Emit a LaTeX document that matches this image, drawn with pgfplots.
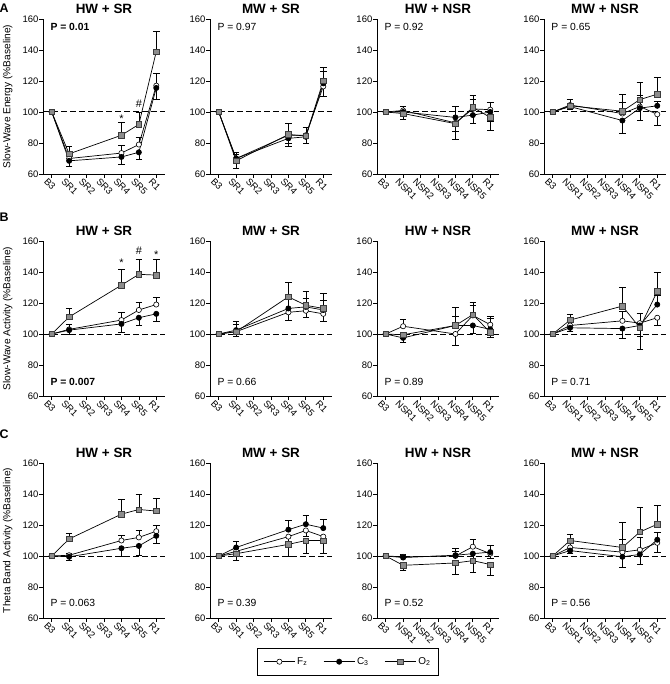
\documentclass[border=0pt]{standalone}
\usepackage{fontspec}
\setmainfont{Liberation Sans}
\usepackage{pgfplots}
\pgfplotsset{compat=1.18}
\usepackage{pgfplotstable}
\usepgfplotslibrary{groupplots}

\definecolor{sqgray}{RGB}{140,140,140}
\definecolor{sqedge}{RGB}{60,60,60}

% columns: x, Fz, Fz error (signed: + up, - down), C3, C3 error, O2, O2 error
\pgfplotstableread{
x fz fze c3 c3e o2 o2e
0 100 0 100 0 100 0
1 70 2 68.5 -3.5 73 5
4 73.5 5 71 -5 85 8.5
5 79 5 74 -4.5 92 8
6 117 8 115.5 -7.5 139 13
}\tAa
\pgfplotstableread{
x fz fze c3 c3e o2 o2e
0 100 0 100 0 100 0
1 70 3 70 -6 68.5 5.5
4 85 -5 83 -5 85.5 7
5 85 -5 84 -4.5 84.5 5.5
6 116.5 -6.5 118.5 7.5 120 9
}\tAb
\pgfplotstableread{
x fz fze c3 c3e o2 o2e
0 100 0 100 0 100 0
1 101 3 100 -1 99 -4
4 93 -5.5 96.5 7 92.5 -10
5 102 6 98 -5.5 103 7.5
6 101.5 4.5 100 -6 96.5 -8
}\tAc
\pgfplotstableread{
x fz fze c3 c3e o2 o2e
0 100 0 100 0 100 0
1 104.5 3.5 103.5 -2 104 4
4 99 7.5 94.5 -8 100.5 11
5 103.5 7 102.5 -8 108 11
6 98.5 -7 104 3 111.5 11
}\tAd
\pgfplotstableread{
x fz fze c3 c3e o2 o2e
0 100 0 100 0 100 0
1 103 3 102.5 -3 111 5.5
4 109 5 106.5 -5.5 131.5 10.5
5 115.5 5 110.5 -5 138.5 10
6 119 5 113 -4.5 138 10.5
}\tBa
\pgfplotstableread{
x fz fze c3 c3e o2 o2e
0 100 0 100 0 100 0
1 101.5 -3 102.5 4 101.5 6.5
4 114 -5 116.5 6 124 9.5
5 115 -4.5 117.5 5.5 118.5 9
6 113 -4.5 115.5 6 116.5 9.5
}\tBb
\pgfplotstableread{
x fz fze c3 c3e o2 o2e
0 100 0 100 0 100 0
1 105 4.5 97.5 -3 99.5 -2
4 100 -7.5 105.5 6 105.5 11.5
5 112 6.5 105.5 -5 112.5 8
6 106 5.5 103 7 101 -3
}\tBc
\pgfplotstableread{
x fz fze c3 c3e o2 o2e
0 100 0 100 0 100 0
1 105.5 3 104 -2 109 4
4 108.5 6 103.5 -6 118 12
5 107 6.5 105.5 -7 104 -14
6 110.5 -5 119 6 127.5 12
}\tBd
\pgfplotstableread{
x fz fze c3 c3e o2 o2e
0 100 0 100 0 100 0
1 100.5 1 99.5 -2 111 3.5
4 110 3.5 105 -5.5 127 9.5
5 112 4.5 106.5 -6 130 9.5
6 116 3.5 113 -4.5 129 8
}\tCa
\pgfplotstableread{
x fz fze c3 c3e o2 o2e
0 100 0 100 0 100 0
1 103 2 105.5 4 101.5 -4
4 112.5 -4 117 6 107.5 -8
5 116.5 -4 120.5 5.5 110 -8
6 112.5 -4 118 6 110 -8
}\tCb
\pgfplotstableread{
x fz fze c3 c3e o2 o2e
0 100 0 100 0 100 0
1 99.5 1 99 2 94 -3.5
4 100 3 100.5 4.5 95.5 -7.5
5 106 4.5 101.5 -3 97 -7.5
6 101.5 -3 102.5 4.5 94.5 -7
}\tCc
\pgfplotstableread{
x fz fze c3 c3e o2 o2e
0 100 0 100 0 100 0
1 105.5 3 103.5 -2 110 4
4 102.5 8.5 99.5 -7 105.5 16.5
5 104 8 101 -6.5 115.5 16
6 108.5 -6 110.5 5 120.5 12
}\tCd

\pgfplotsset{
  panel/.style={
    width=122bp, height=155bp, scale only axis,
    xmin=-0.5, xmax=6.5, ymin=60, ymax=160,
    ytick={60,80,...,160}, xtick={0,...,6},
    axis x line*=bottom, axis y line*=left,
    axis line style={-, line width=0.8pt},
    tick align=outside, major tick length=4bp,
    tick style={black, line width=0.7pt},
    every tick label/.append style={font=\fontsize{9.5}{11}\selectfont},
    /pgf/number format/assume math mode=true,
    yticklabel style={inner sep=0.5bp},
    xticklabel style={rotate=-45, anchor=north west, inner sep=1bp, xshift=-4bp, yshift=-1bp},
    title style={font=\bfseries\fontsize{13.5}{15}\selectfont, at={(0.5,1)}, anchor=base, yshift=0bp},
    ylabel style={font=\fontsize{10.2}{12}\selectfont, at={(axis description cs:-0.29,0.5)}, anchor=center},
    clip=false,
  },
  sr/.style={xticklabels={B3,SR1,SR2,SR3,SR4,SR5,R1}},
  nsr/.style={xticklabels={B3,NSR1,NSR2,NSR3,NSR4,NSR5,R1}},
  errb/.style={black, only marks, mark=none, forget plot,
    skip coords between index={0}{1},
    error bars/.cd, y dir=plus, y explicit,
    error bar style={line width=0.6pt, black, solid},
    error mark options={rotate=90, mark size=3.3bp, line width=0.6pt, black}},
  fzs/.style={black, line width=0.7pt, mark=*, mark size=2.6bp,
    mark options={solid, fill=white, draw=black, line width=0.6pt}},
  c3s/.style={black, line width=0.7pt, mark=*, mark size=2.6bp,
    mark options={solid, fill=black, draw=black}},
  o2s/.style={black, line width=0.7pt, mark=square*, mark size=2.7bp,
    mark options={solid, fill=sqgray, draw=sqedge, line width=0.6pt}},
}

\newcommand{\drawpanel}[1]{%
  \draw[black, dash pattern=on 6bp off 3bp, line width=1bp] (rel axis cs:0,0.4) -- (rel axis cs:1,0.4);
  \addplot[errb] table[x=x, y=fz, y error=fze] {#1};
  \addplot[errb] table[x=x, y=c3, y error=c3e] {#1};
  \addplot[errb] table[x=x, y=o2, y error=o2e] {#1};
  \addplot[fzs] table[x=x, y=fz] {#1};
  \addplot[c3s] table[x=x, y=c3] {#1};
  \addplot[o2s] table[x=x, y=o2] {#1};
}
\newcommand{\pval}[2]{\node[anchor=west, font=\fontsize{10.4}{12}\selectfont, inner sep=0pt] at (rel axis cs:0.06,#1) {#2};}
\newcommand{\plabel}[2]{\node[font=\bfseries\fontsize{12.5}{14}\selectfont, inner sep=0pt] at ([xshift=-39bp, yshift=#1]rel axis cs:0,1) {#2};}
\newcommand{\annot}[3]{\node[font=\fontsize{11}{12}\selectfont, inner sep=0pt] at (axis cs:#1,#2) {#3};}

\begin{document}
\begin{tikzpicture}
\begin{groupplot}[group style={group size=4 by 3, horizontal sep=45bp, vertical sep=67bp}, panel]
% ---------- Row A
\nextgroupplot[sr, title={HW + SR}, ylabel={Slow-Wave Energy (\%Baseline)}]
\drawpanel{\tAa}
\pval{0.95}{\textbf{P = 0.01}}
\plabel{11bp}{A}
\annot{4}{95.5}{*}
\annot{5}{105}{\#}
\nextgroupplot[sr, title={MW + SR}]
\drawpanel{\tAb}
\pval{0.95}{P = 0.97}
\nextgroupplot[nsr, title={HW + NSR}]
\drawpanel{\tAc}
\pval{0.95}{P = 0.92}
\nextgroupplot[nsr, title={MW + NSR}]
\drawpanel{\tAd}
\pval{0.95}{P = 0.65}
% ---------- Row B
\nextgroupplot[sr, title={HW + SR}, ylabel={Slow-Wave Activity (\%Baseline)}]
\drawpanel{\tBa}
\pval{0.09}{\textbf{P = 0.007}}
\plabel{24bp}{B}
\annot{4}{146}{*}
\annot{5}{154}{\#}
\annot{6}{151}{*}
\nextgroupplot[sr, title={MW + SR}]
\drawpanel{\tBb}
\pval{0.09}{P = 0.66}
\nextgroupplot[nsr, title={HW + NSR}]
\drawpanel{\tBc}
\pval{0.09}{P = 0.89}
\nextgroupplot[nsr, title={MW + NSR}]
\drawpanel{\tBd}
\pval{0.09}{P = 0.71}
% ---------- Row C
\nextgroupplot[sr, title={HW + SR}, ylabel={Theta Band Activity (\%Baseline)}]
\drawpanel{\tCa}
\pval{0.1}{P = 0.063}
\plabel{29bp}{C}
\nextgroupplot[sr, title={MW + SR},
  legend style={at={(1.131,-0.194)}, anchor=north, legend columns=3,
    draw=black, line width=0.8pt, inner xsep=6bp, inner ysep=7bp,
    font=\fontsize{10}{11}\selectfont,
    /tikz/every even column/.append style={column sep=14bp}},
  legend image code/.code={\draw[mark repeat=2, mark phase=2] plot coordinates {(0bp,0bp) (15.5bp,0bp) (31bp,0bp)};}]
\drawpanel{\tCb}
\pval{0.1}{P = 0.39}
\legend{F\textsubscript{z}, C\textsubscript{3}, O\textsubscript{2}}
\nextgroupplot[nsr, title={HW + NSR}]
\drawpanel{\tCc}
\pval{0.1}{P = 0.52}
\nextgroupplot[nsr, title={MW + NSR}]
\drawpanel{\tCd}
\pval{0.1}{P = 0.56}
\end{groupplot}
\pgfresetboundingbox
\path ([xshift=-43bp, yshift=19bp]group c1r1.north west) rectangle ([xshift=627bp, yshift=-665bp]group c1r1.north west);
\end{tikzpicture}
\end{document}
